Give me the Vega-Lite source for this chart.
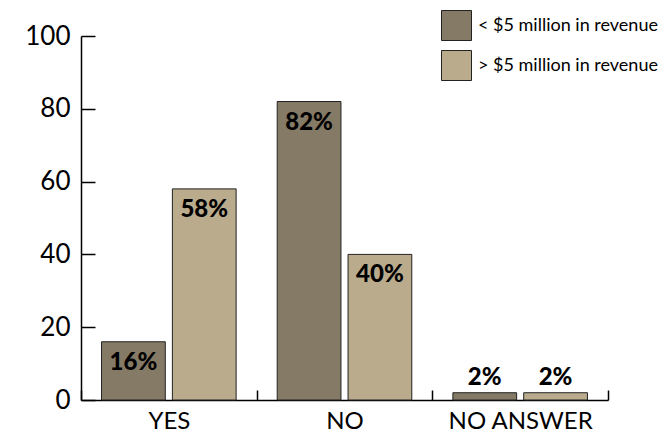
{
  "$schema": "https://vega.github.io/schema/vega-lite/v6.json",
  "width": 527,
  "height": 364,
  "autosize": {"type": "none"},
  "padding": {"left": 81, "top": 36, "right": 61, "bottom": 35},
  "background": "white",
  "config": {"view": {"stroke": null}, "font": "Lato"},
  "data": {"values": [
    {"answer": "YES", "group": "< $5 million in revenue", "pct": 16, "label": "16%"},
    {"answer": "YES", "group": "> $5 million in revenue", "pct": 58, "label": "58%"},
    {"answer": "NO", "group": "< $5 million in revenue", "pct": 82, "label": "82%"},
    {"answer": "NO", "group": "> $5 million in revenue", "pct": 40, "label": "40%"},
    {"answer": "NO ANSWER", "group": "< $5 million in revenue", "pct": 2, "label": "2%"},
    {"answer": "NO ANSWER", "group": "> $5 million in revenue", "pct": 2, "label": "2%"}
  ]},
  "encoding": {
    "x": {"field": "answer", "type": "nominal", "sort": ["YES", "NO", "NO ANSWER"],
      "scale": {"paddingInner": 0, "paddingOuter": 0},
      "axis": {"title": null, "labelAngle": 0, "labelFontSize": 24, "labelColor": "black", "labelPadding": 19,
        "tickBand": "extent", "tickSize": -10, "tickColor": "black", "tickWidth": 1.5, "domainColor": "black", "domainWidth": 1.5}},
    "xOffset": {"field": "group", "type": "nominal", "scale": {"paddingInner": 0.1, "paddingOuter": 0.29}},
    "y": {"field": "pct", "type": "quantitative",
      "scale": {"domain": [0, 100]},
      "axis": {"title": null, "values": [0, 20, 40, 60, 80, 100], "grid": false, "labelFontSize": 26, "labelColor": "black",
        "tickSize": -14, "labelPadding": 25, "tickColor": "black", "tickWidth": 1.5, "domainColor": "black", "domainWidth": 1.5}}
  },
  "layer": [
    {
      "mark": {"type": "bar", "stroke": "#222", "strokeWidth": 1},
      "encoding": {
        "color": {"field": "group", "type": "nominal",
          "scale": {"range": ["#857a65", "#b9ab8c"]},
          "legend": {"title": null, "orient": "none", "legendX": 360, "legendY": -26,
            "symbolType": "square", "symbolSize": 900, "symbolStrokeColor": "#222", "symbolStrokeWidth": 1,
            "symbolOpacity": 1, "labelFontSize": 18, "labelColor": "black", "rowPadding": 5, "labelOffset": 6, "labelLimit": 300}}
      }
    },
    {
      "transform": [{"filter": "datum.pct >= 10"}],
      "mark": {"type": "text", "baseline": "alphabetic", "dy": 28, "fontSize": 24, "fontWeight": 900, "color": "black"},
      "encoding": {"text": {"field": "label"}}
    },
    {
      "transform": [{"filter": "datum.pct < 10"}],
      "mark": {"type": "text", "baseline": "alphabetic", "dy": -8, "fontSize": 24, "fontWeight": 900, "color": "black"},
      "encoding": {"text": {"field": "label"}}
    }
  ]
}
